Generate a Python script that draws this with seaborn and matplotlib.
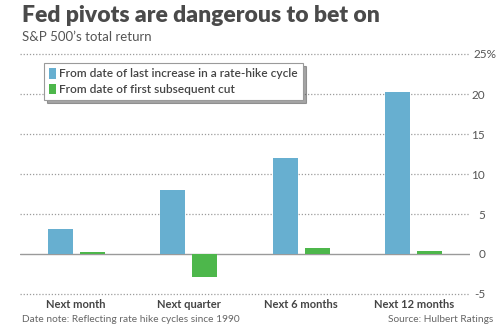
import matplotlib
matplotlib.use("Agg")
import matplotlib.pyplot as plt
import matplotlib.transforms as mtrans
import seaborn as sns
import pandas as pd

categories = ["Next month", "Next quarter", "Next 6 months", "Next 12 months"]
series_names = ["From date of last increase in a rate-hike cycle",
                "From date of first subsequent cut"]
last_increase = [3.1, 8.0, 12.0, 20.2]
first_cut = [0.3, -2.85, 0.7, 0.4]
ytick_values = [-5, 0, 5, 10, 15, 20, 25]
ytick_labels = ["-5", "0", "5", "10", "15", "20", ""]
colors = ["#67afd0", "#4db74b"]

df = pd.DataFrame({
    "period": categories * 2,
    "series": [series_names[0]] * 4 + [series_names[1]] * 4,
    "value": last_increase + first_cut,
})

sns.set_theme(style="white")
plt.rcParams["font.family"] = ["Lato", "DejaVu Sans"]

fig = plt.figure(figsize=(5, 3.34), dpi=100)
ax = fig.add_axes([0.04, 0.115, 0.9, 0.728])

sns.barplot(data=df, x="period", y="value", hue="series", order=categories,
            hue_order=series_names, palette=colors, width=0.57, gap=0.22,
            saturation=1, linewidth=0, ax=ax, zorder=3)

ax.set_xlim(-0.5, 3.5)
ax.set_ylim(-5.2, 25.2)
for s in ax.spines.values():
    s.set_visible(False)

for v in ytick_values:
    if v == 0:
        ax.axhline(0, color="#9a9a9a", lw=1.0, zorder=2)
    else:
        ax.axhline(v, color="#9c9c9c", lw=0.9, ls=(0, (1, 1.5)), zorder=1)

ax.yaxis.tick_right()
ax.set_yticks(ytick_values)
ax.set_yticklabels(ytick_labels, fontsize=8.5, color="#555555", ha="right")
ax.tick_params(axis="y", length=0, pad=11)
ax.text(473, 25, "25%", transform=mtrans.blended_transform_factory(
    mtrans.IdentityTransform(), ax.transData),
    fontsize=8.5, color="#555555", va="center", ha="left")
ax.set_xticks(range(len(categories)))
ax.set_xticklabels(categories, fontsize=8, color="#444444", fontweight="bold")
ax.tick_params(axis="x", length=0, pad=2.5)
ax.set_xlabel("")
ax.set_ylabel("")

handles, labels = ax.get_legend_handles_labels()
leg = ax.legend(handles, labels, loc="upper left", bbox_to_anchor=(0.053, 0.956),
                borderaxespad=0, fontsize=8.6, frameon=True, shadow=True,
                handlelength=0.6, handleheight=1.0, handletextpad=0.3,
                borderpad=0.4, labelspacing=0.35, fancybox=False)
leg.get_frame().set_edgecolor("#9a9a9a")
leg.get_frame().set_linewidth(0.8)
for t in leg.get_texts():
    t.set_color("#444444")
    t.set_fontweight("semibold")

fig.text(22 / 500, 1 - 16 / 334, "Fed pivots are dangerous to bet on", fontsize=16.5,
         fontweight="heavy", color="#4a4a4a", va="center", ha="left")
fig.text(22 / 500, 1 - 37 / 334, "S\u0026P 500\u2019s total return", fontsize=9.5,
         color="#555555", va="center", ha="left")
fig.text(22 / 500, 1 - 320 / 334, "Date note: Reflecting rate hike cycles since 1990",
         fontsize=7.3, color="#666666", va="center", ha="left")
fig.text(493 / 500, 1 - 320 / 334, "Source: Hulbert Ratings",
         fontsize=7.3, color="#666666", va="center", ha="right")

fig.savefig("out.png", dpi=100, facecolor="white")
